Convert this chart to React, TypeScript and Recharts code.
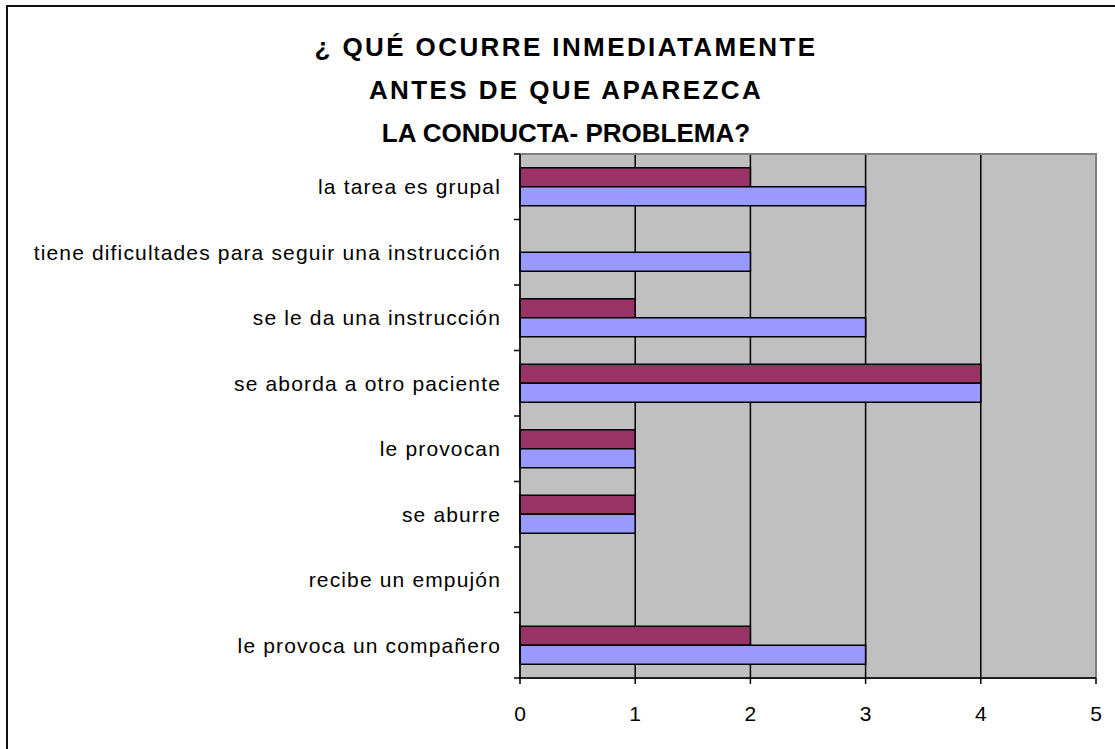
import React from 'react';
import { BarChart, Bar, XAxis, YAxis, CartesianGrid, ReferenceArea } from 'recharts';

const categories = [
  'la tarea es grupal',
  'tiene dificultades para seguir una instrucción',
  'se le da una instrucción',
  'se aborda a otro paciente',
  'le provocan',
  'se aburre',
  'recibe un empujón',
  'le provoca un compañero',
];
const serieA = [2, 0, 1, 4, 1, 1, 0, 2];
const serieB = [3, 2, 3, 4, 1, 1, 0, 3];
const xTicks = [0, 1, 2, 3, 4, 5];

const titleLines = ['¿ QUÉ OCURRE INMEDIATAMENTE', 'ANTES DE QUE APAREZCA', 'LA CONDUCTA- PROBLEMA?'];
const titleSpacing = [2.4, 2.4, 0];

const data = categories.map((name, i) => ({ name, a: serieA[i], b: serieB[i] }));

const W = 1115;
const H = 749;
const margin = { top: 154, right: 19, bottom: 0, left: 0 };
const AXIS_W = 520;
const X_AXIS_H = 71;
const PLOT_H = H - margin.top - margin.bottom - X_AXIS_H;
const FONT = 'Arial, "Liberation Sans", sans-serif';

const CategoryTick = (props: any) => {
  const { x, y, payload, index } = props;
  const band = PLOT_H / categories.length;
  const top = y - band / 2;
  const axisX = margin.left + AXIS_W;
  return (
    <g>
      <line x1={axisX - 6} x2={axisX} y1={top} y2={top} stroke="#000" strokeWidth={1.5} />
      {index === categories.length - 1 && (
        <line x1={axisX - 6} x2={axisX} y1={y + band / 2} y2={y + band / 2} stroke="#000" strokeWidth={1.5} />
      )}
      <text
        x={x}
        y={y}
        textAnchor="end"
        dominantBaseline="central"
        fill="#000"
        fontSize={21}
        letterSpacing={1.15}
        fontFamily={FONT}
      >
        {payload.value}
      </text>
    </g>
  );
};

export default function App() {
  return (
    <div style={{ position: 'fixed', left: 0, top: 0, width: W, height: H, background: '#fff', overflow: 'hidden' }}>
      <div
        style={{
          position: 'absolute',
          left: 6,
          top: 5,
          width: W + 20,
          height: H + 20,
          border: '2px solid #111',
        }}
      />
      <div
        style={{
          position: 'absolute',
          left: 266,
          width: 600,
          top: 26,
          textAlign: 'center',
          fontFamily: FONT,
          fontWeight: 'bold',
          fontSize: 26,
          lineHeight: '43px',
          color: '#000',
        }}
      >
        {titleLines.map((t, i) => (
          <div key={t} style={{ letterSpacing: titleSpacing[i] }}>
            {t}
          </div>
        ))}
      </div>
      <div style={{ position: 'absolute', left: 0, top: 0 }}>
        <BarChart
          width={W}
          height={H}
          data={data}
          layout="vertical"
          margin={margin}
          barCategoryGap="21%"
          barGap={0}
        >
          <CartesianGrid horizontal={false} stroke="#000" strokeWidth={1.5} fill="#C0C0C0" fillOpacity={1} />
          <ReferenceArea x1={0} x2={5} fill="none" stroke="#808080" strokeWidth={2} />
          <XAxis
            type="number"
            domain={[0, 5]}
            ticks={xTicks}
            interval={0}
            height={X_AXIS_H}
            axisLine={{ stroke: '#000', strokeWidth: 1.5 }}
            tickLine={{ stroke: '#000', strokeWidth: 1.5 }}
            tickSize={6}
            tickMargin={22}
            tick={{ fill: '#000', fontSize: 21, fontFamily: FONT }}
          />
          <YAxis
            type="category"
            dataKey="name"
            width={AXIS_W}
            interval={0}
            axisLine={{ stroke: '#000', strokeWidth: 1.5 }}
            tickLine={false}
            tickSize={6}
            tickMargin={13}
            tick={<CategoryTick />}
          />
          <Bar dataKey="a" fill="#993366" stroke="#000" strokeWidth={1.5} isAnimationActive={false} />
          <Bar dataKey="b" fill="#9999FF" stroke="#000" strokeWidth={1.5} isAnimationActive={false} />
        </BarChart>
      </div>
    </div>
  );
}
